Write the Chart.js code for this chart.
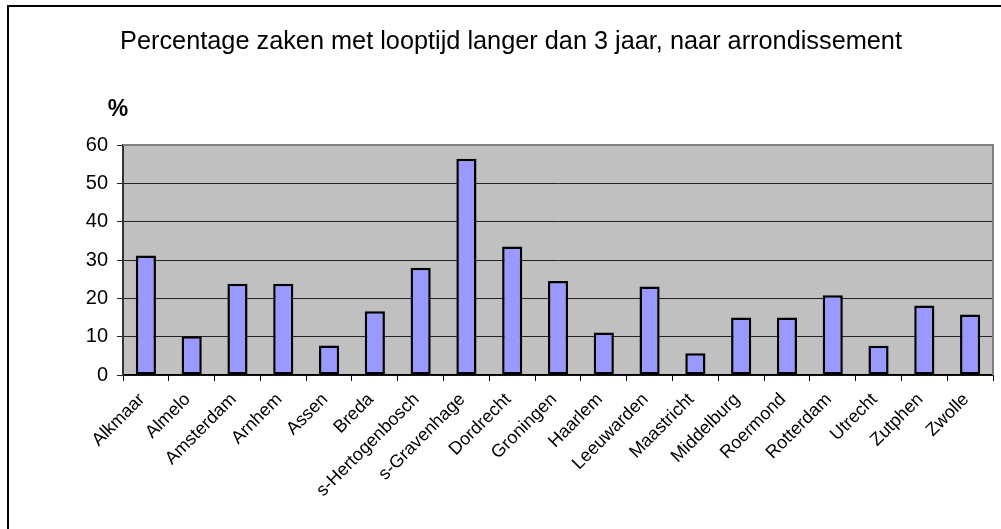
<!DOCTYPE html>
<html>
<head>
<meta charset="utf-8">
<script src="https://cdn.jsdelivr.net/npm/chart.js@4.4.1/dist/chart.umd.min.js"></script>
<style>
  html, body { margin: 0; padding: 0; background: #fff; }
  #wrap { width: 1001px; height: 529px; position: relative; }
</style>
</head>
<body>
<div id="wrap"><canvas id="chart"></canvas></div>
<script>
const categories = [
  'Alkmaar', 'Almelo', 'Amsterdam', 'Arnhem', 'Assen', 'Breda',
  's-Hertogenbosch', 's-Gravenhage', 'Dordrecht', 'Groningen', 'Haarlem',
  'Leeuwarden', 'Maastricht', 'Middelburg', 'Roermond', 'Rotterdam',
  'Utrecht', 'Zutphen', 'Zwolle'
];
const percentages = [
  31.2, 10.1, 23.8, 23.8, 7.7, 16.6,
  28.0, 56.4, 33.5, 24.5, 11.1,
  23.1, 5.7, 15.0, 15.0, 20.8,
  7.6, 18.1, 15.8
];
const yTicks = [0, 10, 20, 30, 40, 50, 60];
const titleText = 'Percentage zaken met looptijd langer dan 3 jaar, naar arrondissement';
const unitText = '%';

const FONT = '"Liberation Sans", Arial, sans-serif';

// grey plot background, frame and the texts around the chart
const decorations = {
  id: 'decorations',
  beforeDraw(chart) {
    const { ctx, chartArea: a } = chart;
    ctx.save();
    ctx.fillStyle = '#c0c0c0';
    ctx.fillRect(a.left, a.top, a.right - a.left, a.bottom - a.top);
    ctx.restore();
  },
  afterDraw(chart) {
    const { ctx, chartArea: a } = chart;
    ctx.save();
    // top and right edge of the plot area
    ctx.strokeStyle = '#808080';
    ctx.lineWidth = 2;
    ctx.beginPath();
    ctx.moveTo(a.left, a.top);
    ctx.lineTo(a.right, a.top);
    ctx.lineTo(a.right, a.bottom);
    ctx.stroke();

    // outer frame
    ctx.strokeStyle = '#000';
    ctx.lineWidth = 2;
    ctx.beginPath();
    ctx.moveTo(8, 540);
    ctx.lineTo(8, 6);
    ctx.lineTo(1010, 6);
    ctx.stroke();

    ctx.fillStyle = '#000';
    ctx.textAlign = 'center';
    ctx.textBaseline = 'middle';
    ctx.font = '25.3px ' + FONT;
    ctx.fillText(titleText, 511, 42);

    ctx.font = 'bold 23px ' + FONT;
    ctx.fillText(unitText, 118, 110);
    ctx.restore();
  }
};

new Chart(document.getElementById('chart'), {
  type: 'bar',
  data: {
    labels: categories,
    datasets: [{
      data: percentages,
      backgroundColor: '#9999ff',
      borderColor: '#000',
      borderWidth: 2.5,
      borderSkipped: false,
      categoryPercentage: 1,
      barPercentage: 0.44
    }]
  },
  options: {
    responsive: true,
    maintainAspectRatio: false,
    animation: false,
    layout: { padding: { left: 0, right: 8, top: 145, bottom: 0 } },
    plugins: {
      legend: { display: false },
      title: { display: false },
      tooltip: { enabled: false }
    },
    scales: {
      x: {
        grid: {
          offset: true,
          drawOnChartArea: false,
          color: '#000',
          tickLength: 6
        },
        border: { color: '#000', width: 1.5 },
        ticks: {
          color: '#000',
          font: { family: FONT, size: 18 },
          minRotation: 45,
          maxRotation: 45,
          autoSkip: false,
          padding: 8,
          labelOffset: -4
        },
        afterFit(scale) { scale.height = 154; }
      },
      y: {
        min: 0,
        max: 60,
        afterBuildTicks(scale) {
          scale.ticks = yTicks.map(v => ({ value: v }));
        },
        grid: { color: '#222', tickLength: 6 },
        border: { color: '#333', width: 2 },
        ticks: {
          color: '#000',
          font: { family: FONT, size: 20 },
          padding: 9
        },
        afterFit(scale) { scale.width = 123; }
      }
    }
  },
  plugins: [decorations]
});
</script>
</body>
</html>
